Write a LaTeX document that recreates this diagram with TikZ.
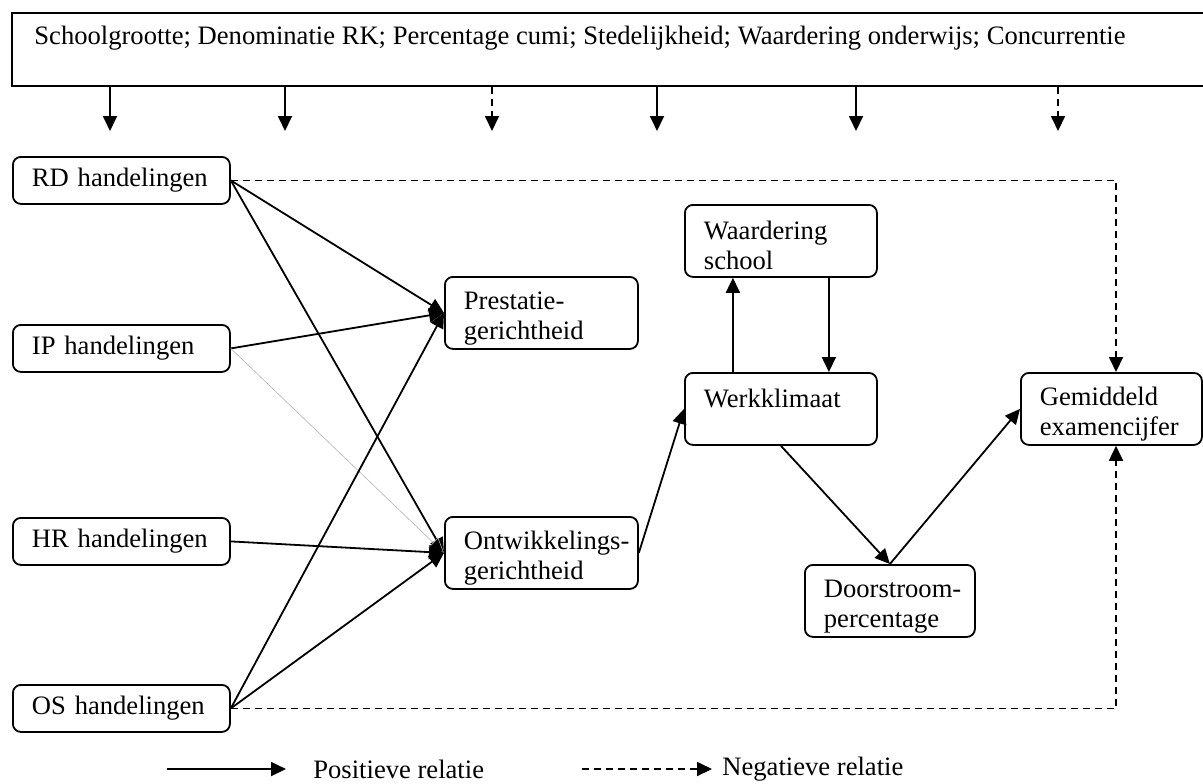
\documentclass[tikz,border=0pt]{standalone}
\usepackage{fontspec}
\setmainfont{Liberation Serif}
\usetikzlibrary{arrows.meta}
% taller first line, so two-line labels sit a little lower in their boxes
\newcommand{\firstrow}{\rule{0pt}{14pt}}
\begin{document}
\begin{tikzpicture}[x=0.5pt,y=-0.5pt,
  every node/.style={font=\fontsize{13.3}{15}\selectfont},
  box/.style={draw, line width=0.9pt, rounded corners=4pt, anchor=north west,
    align=left, inner xsep=9.5pt, inner ysep=0pt},
  onerow/.style={box, minimum height=23.5pt},
  tworow/.style={box, minimum height=36pt},
  lbl/.style={inner sep=0pt, anchor=west},
  posrel/.style={line width=0.9pt, -{Triangle[length=7.5pt,width=7pt]}},
  negrel/.style={posrel, dash pattern=on 3.5pt off 2.5pt},
  weakrel/.style={line width=0.3pt, draw=gray!60, -{Triangle[length=7.5pt,width=7pt,fill=black]}}
]
\useasboundingbox (0,0) rectangle (1203,783);

% control variables
\node[draw, line width=0.9pt, anchor=north west, minimum width=602pt,
  minimum height=36.5pt, inner sep=0pt] (ctrl) at (11,12) {};
\node[lbl] (ctrltxt) at (34,38) {Schoolgrootte; Denominatie RK; Percentage cumi; Stedelijkheid; Waardering onderwijs; Concurrentie};

\foreach \x/\n in {110/1,285/2,492/3,657/4,856/5,1058/6}
  \coordinate (t\n) at (\x,131);
\foreach \n in {1,2,4,5}
  \draw[posrel] (t\n |- ctrl.south) -- (t\n);
\foreach \n in {3,6}
  \draw[negrel] (t\n |- ctrl.south) -- (t\n);

% leadership actions
\node[onerow, text width=89.5pt] (rd) at (12,156) {RD handelingen};
\node[onerow, text width=89.5pt] (ip) at (12,324) {IP handelingen};
\node[onerow, text width=89.5pt] (hr) at (12,517) {HR handelingen};
\node[onerow, text width=89.5pt] (os) at (12,684) {OS handelingen};

% school orientation
\node[tworow, text width=77.5pt] (pg) at (444,276) {\firstrow Prestatie-\\gerichtheid};
\node[tworow, text width=77.5pt] (og) at (444,516) {\firstrow\mbox{Ontwikkelings-}\\gerichtheid};

% climate and outcomes
\node[tworow, text width=77pt] (ws) at (684,204) {\firstrow Waardering\\school};
\node[tworow, text width=77pt] (wk) at (684,372) {\firstrow Werkklimaat\\\mbox{}};
\node[tworow, text width=66pt] (dp) at (804,564) {\firstrow\mbox{Doorstroom-}\\percentage};
\node[tworow, text width=71.5pt] (ge) at (1020,372) {\firstrow Gemiddeld\\examencijfer};

% effects on orientation
\draw[posrel] (rd.east) -- (pg.west);
\draw[posrel] (rd.east) -- (og.west);
\draw[posrel] (ip.east) -- (pg.west);
\draw[weakrel] (ip.east) -- (og.west);
\draw[posrel] (hr.east) -- (og.west);
\draw[posrel] (os.east) -- (pg.west);
\draw[posrel] (os.east) -- (og.west);

% chain to exam results
\draw[posrel] (og.east) -- (wk.west);
\draw[posrel] ([xshift=-24pt]wk.north) -- ([xshift=-24pt]ws.south);
\draw[posrel] ([xshift=24pt]ws.south) -- ([xshift=24pt]wk.north);
\draw[posrel] (wk.south) -- (dp.north);
\draw[posrel] (dp.north) -- (ge.west);

% direct negative effects
\coordinate (gx) at (1116,0);
\draw[negrel] (rd.east) -- (rd.east -| gx) -- (gx |- ge.north);
\draw[negrel] (os.east) -- (os.east -| gx) -- (gx |- ge.south);

% legend
\coordinate (lp1) at (167,769);
\coordinate (lp2) at (286,769);
\draw[posrel] (lp1) -- (lp2);
\node[lbl] (lpt) at (313,769) {Positieve relatie};
\coordinate (ln1) at (582,769);
\coordinate (ln2) at (712,769);
\draw[negrel] (ln1) -- (ln2);
\node[lbl] (lnt) at (722,769) {Negatieve relatie};
\end{tikzpicture}
\end{document}
